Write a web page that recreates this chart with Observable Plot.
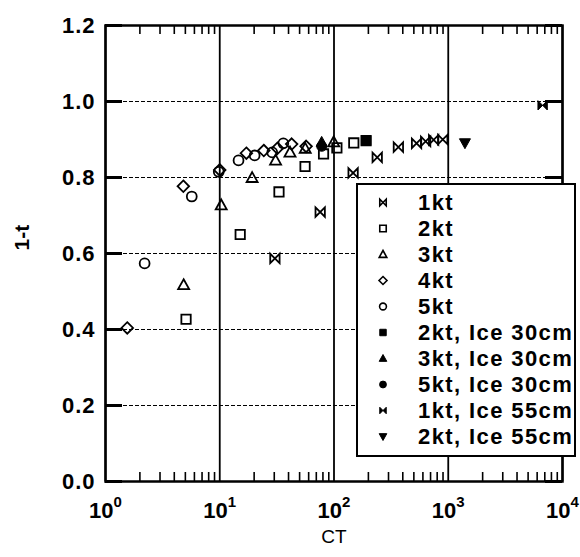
<!DOCTYPE html>
<html><head><meta charset="utf-8">
<script src="https://cdn.jsdelivr.net/npm/d3@7"></script>
<script src="https://cdn.jsdelivr.net/npm/@observablehq/plot@0.6"></script>
<style>
body{margin:0;background:#fff;font-family:"Liberation Sans",Arial,sans-serif;}
#wrap{position:relative;width:580px;height:557px;}
#legend{position:absolute;left:356px;top:183px;width:216px;height:270px;border:2.5px solid #000;background:#fff;}
#legend text{letter-spacing:1.4px;}
#wrap > svg g[aria-label="y-axis tick label"] text{letter-spacing:1px;}
</style></head><body><div id="wrap"></div>
<script>
// ---- data ----
const seriesNames = ["1kt","2kt","3kt","4kt","5kt","2kt, Ice 30cm","3kt, Ice 30cm","5kt, Ice 30cm","1kt, Ice 55cm","2kt, Ice 55cm"];
const ct_1kt = [30.4, 75.7, 147, 239, 366, 528, 634, 745, 895];
const t_1kt  = [0.587, 0.709, 0.812, 0.853, 0.880, 0.890, 0.895, 0.899, 0.900];
const ct_2kt = [5.07, 15.1, 33, 55.8, 81, 106, 149, 191];
const t_2kt  = [0.427, 0.650, 0.762, 0.829, 0.862, 0.878, 0.891, 0.897];
const ct_3kt = [4.83, 10.3, 19.2, 30.8, 41.2, 56, 99.4];
const t_3kt  = [0.517, 0.727, 0.799, 0.845, 0.866, 0.876, 0.893];
const ct_4kt = [1.55, 4.8, 10, 17.1, 24.3, 32, 42.6, 57];
const t_4kt  = [0.404, 0.777, 0.82, 0.864, 0.871, 0.877, 0.888, 0.882];
const ct_5kt = [2.2, 5.69, 9.8, 14.6, 20.2, 28.8, 36];
const t_5kt  = [0.574, 0.750, 0.815, 0.845, 0.858, 0.866, 0.890];
const ct_2kt_ice30 = [191];  const t_2kt_ice30 = [0.897];
const ct_3kt_ice30 = [78];   const t_3kt_ice30 = [0.893];
const ct_5kt_ice30 = [78];   const t_5kt_ice30 = [0.882];
const ct_1kt_ice55 = [6700]; const t_1kt_ice55 = [0.99];
const ct_2kt_ice55 = [1400]; const t_2kt_ice55 = [0.891];
const xTicks = [1, 10, 100, 1000, 10000];
const yTicks = [0, 0.2, 0.4, 0.6, 0.8, 1.0, 1.2];
const xMinor = [];
for (const dec of [1, 10, 100, 1000]) for (let m = 2; m <= 9; m++) xMinor.push(m * dec);

// ---- symbols ----
const R = s => Math.sqrt(s / Math.PI);
const symSquare = {draw(c, s){const r = R(s)*0.85; c.moveTo(-r,-r); c.lineTo(r,-r); c.lineTo(r,r); c.lineTo(-r,r); c.closePath();}};
const symTriUp = {draw(c, s){const r = R(s); c.moveTo(0,-r*1.05); c.lineTo(r,r*0.75); c.lineTo(-r,r*0.75); c.closePath();}};
const symTriDown = {draw(c, s){const r = R(s); c.moveTo(-r,-r*0.75); c.lineTo(r,-r*0.75); c.lineTo(0,r*1.05); c.closePath();}};
const symDiamond = {draw(c, s){const r = R(s)*1.05; c.moveTo(0,-r); c.lineTo(r,0); c.lineTo(0,r); c.lineTo(-r,0); c.closePath();}};
const symCircle = {draw(c, s){const r = R(s)*0.9; c.moveTo(r,0); c.arc(0,0,r,0,2*Math.PI); c.closePath();}};
const symBow = {draw(c, s){const r = R(s)*0.85; c.moveTo(-r,-r); c.lineTo(-r,r); c.lineTo(r,-r); c.lineTo(r,r); c.closePath();}};

const specs = [
  {ct: ct_1kt, t: t_1kt, sym: symBow, filled: false},
  {ct: ct_2kt, t: t_2kt, sym: symSquare, filled: false},
  {ct: ct_3kt, t: t_3kt, sym: symTriUp, filled: false},
  {ct: ct_4kt, t: t_4kt, sym: symDiamond, filled: false},
  {ct: ct_5kt, t: t_5kt, sym: symCircle, filled: false},
  {ct: ct_2kt_ice30, t: t_2kt_ice30, sym: symSquare, filled: true},
  {ct: ct_3kt_ice30, t: t_3kt_ice30, sym: symTriUp, filled: true},
  {ct: ct_5kt_ice30, t: t_5kt_ice30, sym: symCircle, filled: true},
  {ct: ct_1kt_ice55, t: t_1kt_ice55, sym: symBow, filled: true},
  {ct: ct_2kt_ice55, t: t_2kt_ice55, sym: symTriDown, filled: true}
];

// ---- layout ----
const W = 580, H = 557, mL = 105, mR = 18, mT = 25, mB = 76;
const plotW = W - mL - mR, plotH = H - mT - mB;
const FONT = "'Liberation Sans', Arial, Helvetica, sans-serif";

const dotMarks = specs.map(sp => Plot.dot(sp.ct.map((c, i) => ({ct: c, t: sp.t[i]})), {
  x: "ct", y: "t", symbol: sp.sym, r: 5.5,
  fill: sp.filled ? "#000" : "none", stroke: "#000", strokeWidth: sp.filled ? 1 : 1.8
}));

const chart = Plot.plot({
  width: W, height: H, marginLeft: mL, marginRight: mR, marginTop: mT, marginBottom: mB,
  x: {type: "log", domain: [1, 1e4]},
  y: {domain: [0, 1.2]},
  style: {fontFamily: FONT, fontWeight: "bold", fontSize: "22px", color: "#000", background: "#fff"},
  marks: [
    Plot.gridY(yTicks, {stroke: "#000", strokeOpacity: 1, strokeWidth: 1, strokeDasharray: "4,2"}),
    Plot.gridX(xTicks, {stroke: "#000", strokeOpacity: 1, strokeWidth: 1.8}),
    Plot.tickX(xMinor, {x: d => d, insetTop: plotH - 9, strokeWidth: 1.6}),
    Plot.tickX(xMinor, {x: d => d, insetBottom: plotH - 9, strokeWidth: 1.6}),
    Plot.tickY(yTicks, {y: d => d, insetRight: plotW - 17, strokeWidth: 3}),
    Plot.tickY(yTicks, {y: d => d, insetLeft: plotW - 17, strokeWidth: 3}),
    Plot.axisX(xTicks, {tickSize: 0, tickPadding: 21, fontSize: 22, label: null,
      tickFormat: d => "10^" + Math.round(Math.log10(d))}),
    Plot.axisY(yTicks, {tickSize: 0, tickPadding: 10, fontSize: 22, label: null,
      tickFormat: d => d.toFixed(1)}),
    Plot.frame({stroke: "#000", strokeWidth: 2.5}),
    ...dotMarks,
    Plot.text(["CT"], {text: d => d, frameAnchor: "bottom", dy: 61, fontSize: 19, fontWeight: "normal"}),
    Plot.text(["1-t"], {text: d => d, frameAnchor: "left", dx: -83, dy: -3, rotate: -90, fontSize: 21})
  ]
});

// superscript exponents
d3.select(chart).selectAll('g[aria-label="x-axis tick label"] text').each(function() {
  const parts = this.textContent.split("^");
  const s = d3.select(this);
  s.text(null);
  s.append("tspan").text(parts[0]);
  s.append("tspan").attr("dy", "-11").attr("font-size", "15px").text(parts[1]);
});

const wrap = document.getElementById("wrap");
wrap.appendChild(chart);

// ---- legend ----
const legDiv = document.createElement("div");
legDiv.id = "legend";
const legMarks = specs.map((sp, i) => Plot.dot([seriesNames[i]], {
  y: d => d, frameAnchor: "left", dx: 24.5, symbol: sp.sym, r: 3.8,
  fill: sp.filled ? "#000" : "none", stroke: "#000", strokeWidth: sp.filled ? 1 : 1.6
}));
const legend = Plot.plot({
  width: 216, height: 270, margin: 0,
  y: {type: "point", domain: seriesNames, range: [15.5, 251.5], padding: 0, axis: null},
  style: {fontFamily: FONT, fontWeight: "bold", fontSize: "22px", color: "#000", background: "#fff"},
  marks: [
    ...legMarks,
    Plot.text(seriesNames, {y: d => d, text: d => d, frameAnchor: "left", dx: 59.5, textAnchor: "start", fontSize: 22})
  ]
});
legDiv.appendChild(legend);
wrap.appendChild(legDiv);
</script>
</body></html>
